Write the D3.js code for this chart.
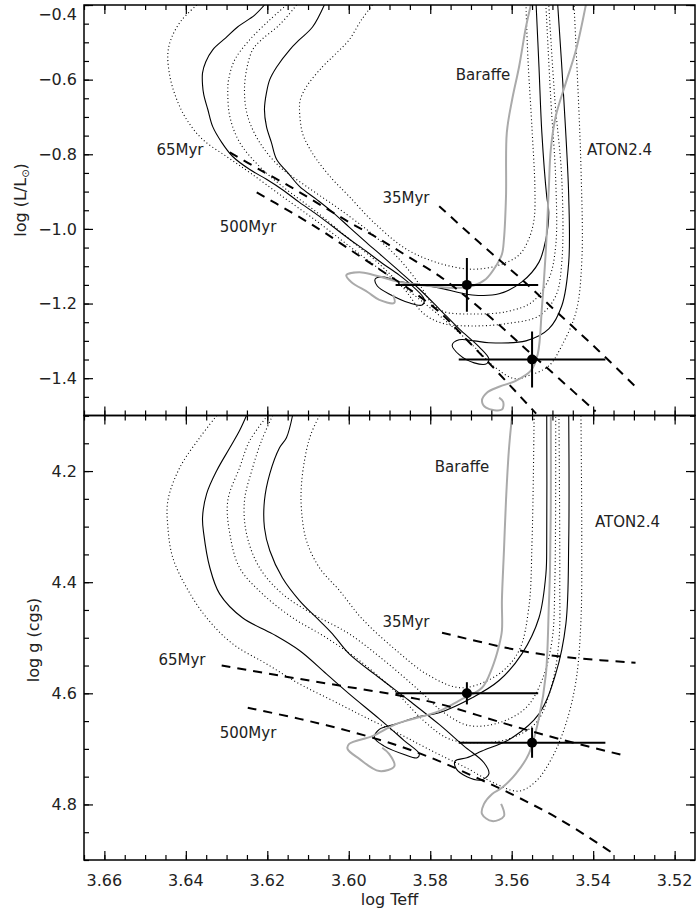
<!DOCTYPE html>
<html>
<head>
<meta charset="utf-8">
<script src="https://cdn.jsdelivr.net/npm/d3@7"></script>
<style>
  body { margin: 0; background: #fff; }
  text { font-family: "DejaVu Sans", sans-serif; fill: #222; }
</style>
</head>
<body>
<div id="chart"></div>
<script>
// ---- data: [log Teff, value] ----
// upper panel: log(L/Lsun)
var hrS1 = [[3.6207,-0.400],[3.6231,-0.427],[3.6273,-0.459],[3.6302,-0.488],[3.6334,-0.520],[3.6351,-0.552],[3.6359,-0.582],[3.6359,-0.614],[3.6356,-0.640],[3.6346,-0.680],[3.6334,-0.726],[3.6312,-0.768],[3.6285,-0.806],[3.6243,-0.841],[3.6202,-0.867],[3.6160,-0.897],[3.6121,-0.929],[3.6079,-0.961],[3.6040,-0.993],[3.5999,-1.027],[3.5957,-1.060],[3.5918,-1.092],[3.5876,-1.124],[3.5839,-1.158],[3.5815,-1.188],[3.5820,-1.204],[3.5852,-1.198],[3.5896,-1.177],[3.5930,-1.153],[3.5935,-1.134],[3.5913,-1.129],[3.5883,-1.140],[3.5820,-1.150],[3.5778,-1.158],[3.5697,-1.177],[3.5631,-1.174],[3.5575,-1.142],[3.5533,-1.089],[3.5516,-1.027],[3.5509,-0.955],[3.5514,-0.913],[3.5526,-0.742],[3.5533,-0.566],[3.5540,-0.400]];
var hrS2 = [[3.6060,-0.400],[3.6089,-0.459],[3.6121,-0.493],[3.6145,-0.520],[3.6177,-0.566],[3.6194,-0.600],[3.6202,-0.635],[3.6207,-0.680],[3.6202,-0.726],[3.6190,-0.768],[3.6177,-0.814],[3.6150,-0.849],[3.6121,-0.886],[3.6079,-0.921],[3.6040,-0.955],[3.5999,-0.995],[3.5957,-1.036],[3.5918,-1.073],[3.5876,-1.113],[3.5827,-1.161],[3.5778,-1.214],[3.5729,-1.268],[3.5680,-1.316],[3.5656,-1.348],[3.5661,-1.361],[3.5692,-1.359],[3.5729,-1.337],[3.5746,-1.311],[3.5729,-1.297],[3.5692,-1.300],[3.5656,-1.305],[3.5565,-1.300],[3.5509,-1.268],[3.5477,-1.206],[3.5460,-1.089],[3.5460,-0.913],[3.5472,-0.654],[3.5487,-0.400]];
var hrD1 = [[3.6373,-0.400],[3.6410,-0.440],[3.6434,-0.485],[3.6444,-0.528],[3.6439,-0.592],[3.6422,-0.654],[3.6398,-0.707],[3.6359,-0.760],[3.6300,-0.806],[3.6243,-0.849],[3.6163,-0.913],[3.6079,-0.979],[3.5999,-1.046],[3.5918,-1.113],[3.5834,-1.182],[3.5754,-1.254],[3.5692,-1.316],[3.5643,-1.369],[3.5594,-1.401],[3.5558,-1.393],[3.5509,-1.367],[3.5477,-1.313],[3.5442,-1.222],[3.5428,-1.089],[3.5430,-0.833],[3.5447,-0.400]];
var hrD2 = [[3.6153,-0.400],[3.6194,-0.440],[3.6243,-0.493],[3.6280,-0.547],[3.6295,-0.600],[3.6297,-0.635],[3.6292,-0.699],[3.6268,-0.768],[3.6219,-0.833],[3.6163,-0.886],[3.6079,-0.955],[3.5999,-1.027],[3.5925,-1.094],[3.5864,-1.161],[3.5815,-1.228],[3.5766,-1.254],[3.5697,-1.260],[3.5614,-1.254],[3.5533,-1.233],[3.5492,-1.180],[3.5477,-1.089],[3.5477,-0.867],[3.5494,-0.654],[3.5509,-0.400]];
var hrD3 = [[3.6128,-0.400],[3.6170,-0.453],[3.6214,-0.493],[3.6236,-0.520],[3.6251,-0.574],[3.6256,-0.635],[3.6248,-0.699],[3.6219,-0.768],[3.6170,-0.833],[3.6104,-0.886],[3.6023,-0.947],[3.5942,-1.014],[3.5876,-1.081],[3.5827,-1.148],[3.5795,-1.201],[3.5766,-1.222],[3.5697,-1.228],[3.5614,-1.222],[3.5550,-1.196],[3.5509,-1.134],[3.5492,-1.046],[3.5492,-0.867],[3.5504,-0.654],[3.5516,-0.400]];
var hrD4 = [[3.5942,-0.400],[3.5969,-0.440],[3.5999,-0.493],[3.6035,-0.534],[3.6065,-0.566],[3.6104,-0.619],[3.6119,-0.654],[3.6121,-0.680],[3.6114,-0.742],[3.6099,-0.779],[3.6079,-0.814],[3.6040,-0.867],[3.5999,-0.913],[3.5942,-0.979],[3.5859,-1.054],[3.5778,-1.092],[3.5697,-1.108],[3.5631,-1.097],[3.5582,-1.070],[3.5558,-1.027],[3.5545,-0.974],[3.5543,-0.894],[3.5550,-0.734],[3.5560,-0.547],[3.5565,-0.400]];
var hrBaraffe1 = [[3.5553,-0.400],[3.5565,-0.459],[3.5582,-0.566],[3.5599,-0.654],[3.5612,-0.742],[3.5614,-0.913],[3.5619,-1.027],[3.5624,-1.068],[3.5639,-1.100],[3.5663,-1.134],[3.5697,-1.153],[3.5741,-1.158],[3.5803,-1.153],[3.5876,-1.142],[3.5937,-1.124],[3.5974,-1.116],[3.6006,-1.124],[3.5994,-1.142],[3.5954,-1.169],[3.5925,-1.190],[3.5888,-1.198],[3.5891,-1.177]];
var hrBaraffe2 = [[3.5418,-0.400],[3.5442,-0.520],[3.5467,-0.608],[3.5492,-0.699],[3.5504,-0.787],[3.5509,-0.894],[3.5516,-1.054],[3.5526,-1.214],[3.5536,-1.335],[3.5553,-1.380],[3.5590,-1.407],[3.5631,-1.423],[3.5661,-1.439],[3.5673,-1.460],[3.5663,-1.479],[3.5624,-1.484],[3.5621,-1.463],[3.5631,-1.452]];
var hrIso35 = [[3.5778,-0.939],[3.5680,-1.036],[3.5582,-1.129],[3.5484,-1.228],[3.5386,-1.327],[3.5296,-1.423]];
var hrIso65 = [[3.6292,-0.795],[3.6219,-0.841],[3.6145,-0.886],[3.6072,-0.934],[3.5999,-0.982],[3.5925,-1.027],[3.5852,-1.076],[3.5778,-1.126],[3.5705,-1.188],[3.5631,-1.257],[3.5558,-1.329],[3.5484,-1.401],[3.5394,-1.489]];
var hrIso500 = [[3.6226,-0.902],[3.6145,-0.953],[3.6072,-1.001],[3.5999,-1.054],[3.5925,-1.108],[3.5852,-1.161],[3.5778,-1.222],[3.5705,-1.303],[3.5631,-1.388],[3.5540,-1.495]];
// [logTeff, value, err logTeff, err value]
var hrStars = [[3.571,-1.150,0.0175,0.072],[3.555,-1.350,0.018,0.075]];

// lower panel: log g
var gS1 = [[3.6251,4.100],[3.6268,4.127],[3.6292,4.158],[3.6324,4.199],[3.6349,4.241],[3.6359,4.284],[3.6356,4.313],[3.6341,4.374],[3.6317,4.421],[3.6261,4.464],[3.6187,4.493],[3.6121,4.523],[3.6055,4.565],[3.5999,4.601],[3.5925,4.646],[3.5864,4.685],[3.5827,4.709],[3.5832,4.716],[3.5864,4.710],[3.5913,4.695],[3.5937,4.680],[3.5925,4.665],[3.5883,4.655],[3.5827,4.642],[3.5778,4.635],[3.5697,4.608],[3.5631,4.577],[3.5575,4.529],[3.5533,4.464],[3.5516,4.385],[3.5514,4.325],[3.5514,4.100]];
var gS2 = [[3.6138,4.100],[3.6153,4.140],[3.6170,4.158],[3.6194,4.205],[3.6207,4.253],[3.6207,4.302],[3.6194,4.343],[3.6163,4.392],[3.6121,4.433],[3.6072,4.469],[3.6040,4.493],[3.5999,4.529],[3.5925,4.572],[3.5852,4.613],[3.5778,4.656],[3.5717,4.695],[3.5668,4.725],[3.5656,4.745],[3.5675,4.756],[3.5710,4.750],[3.5736,4.736],[3.5739,4.722],[3.5710,4.716],[3.5673,4.704],[3.5599,4.680],[3.5533,4.637],[3.5492,4.565],[3.5467,4.475],[3.5460,4.325],[3.5460,4.100]];
var gD1 = [[3.6324,4.100],[3.6366,4.140],[3.6415,4.194],[3.6444,4.253],[3.6444,4.302],[3.6432,4.356],[3.6398,4.410],[3.6349,4.464],[3.6285,4.511],[3.6202,4.547],[3.6121,4.583],[3.6040,4.613],[3.5957,4.644],[3.5876,4.673],[3.5795,4.704],[3.5712,4.734],[3.5639,4.763],[3.5582,4.776],[3.5540,4.758],[3.5501,4.716],[3.5467,4.655],[3.5442,4.577],[3.5430,4.469],[3.5428,4.325],[3.5430,4.100]];
var gD2 = [[3.6199,4.100],[3.6243,4.145],[3.6268,4.194],[3.6297,4.253],[3.6292,4.313],[3.6268,4.374],[3.6212,4.421],[3.6138,4.464],[3.6055,4.500],[3.5974,4.541],[3.5888,4.595],[3.5815,4.650],[3.5754,4.682],[3.5680,4.689],[3.5607,4.682],[3.5540,4.653],[3.5501,4.583],[3.5484,4.505],[3.5482,4.397],[3.5484,4.100]];
var gD3 = [[3.6187,4.100],[3.6214,4.145],[3.6236,4.194],[3.6256,4.253],[3.6251,4.313],[3.6219,4.374],[3.6163,4.421],[3.6089,4.457],[3.5999,4.493],[3.5913,4.541],[3.5827,4.595],[3.5766,4.635],[3.5705,4.658],[3.5631,4.653],[3.5565,4.626],[3.5526,4.577],[3.5501,4.505],[3.5494,4.397],[3.5492,4.100]];
var gD4 = [[3.6072,4.100],[3.6092,4.132],[3.6104,4.163],[3.6116,4.223],[3.6116,4.271],[3.6104,4.325],[3.6072,4.374],[3.6023,4.415],[3.5967,4.466],[3.5883,4.523],[3.5803,4.568],[3.5722,4.590],[3.5631,4.565],[3.5582,4.523],[3.5558,4.446],[3.5550,4.325],[3.5545,4.100]];
var gBaraffe1 = [[3.5599,4.100],[3.5607,4.163],[3.5614,4.253],[3.5619,4.343],[3.5624,4.433],[3.5624,4.487],[3.5631,4.514],[3.5648,4.554],[3.5673,4.590],[3.5729,4.613],[3.5778,4.632],[3.5883,4.655],[3.5942,4.677],[3.5999,4.691],[3.6003,4.700],[3.5974,4.718],[3.5925,4.740],[3.5888,4.731],[3.5901,4.709],[3.5918,4.698]];
var gBaraffe2 = [[3.5504,4.100],[3.5504,4.253],[3.5506,4.379],[3.5509,4.446],[3.5516,4.565],[3.5533,4.644],[3.5558,4.709],[3.5590,4.745],[3.5624,4.770],[3.5648,4.781],[3.5668,4.799],[3.5673,4.817],[3.5648,4.830],[3.5619,4.821],[3.5626,4.799]];
var gIso35 = [[3.5771,4.491],[3.5614,4.518],[3.5533,4.529],[3.5452,4.536],[3.5296,4.545]];
var gIso65 = [[3.6312,4.550],[3.6170,4.568],[3.6023,4.586],[3.5876,4.604],[3.5778,4.619],[3.5614,4.655],[3.5484,4.682],[3.5318,4.713]];
var gIso500 = [[3.6248,4.626],[3.6121,4.646],[3.5999,4.668],[3.5876,4.695],[3.5778,4.722],[3.5680,4.754],[3.5582,4.788],[3.5484,4.826],[3.5386,4.871],[3.5350,4.889]];
var gStars = [[3.571,4.600,0.0175,0.020],[3.555,4.689,0.018,0.027]];

// ticks
var xMajor = [3.66, 3.64, 3.62, 3.60, 3.58, 3.56, 3.54, 3.52];
var hrMajor = [-1.4, -1.2, -1.0, -0.8, -0.6, -0.4];
var gMajor = [4.2, 4.4, 4.6, 4.8];

// ---- layout ----
var svgWidth = 696, svgHeight = 912;
var plotLeft = 84, plotRight = 695, plotTop = 5, plotMid = 415.5, plotBottom = 860;

var svg = d3.select("#chart").append("svg")
    .attr("width", svgWidth)
    .attr("height", svgHeight);

var x = d3.scaleLinear().domain([3.665, 3.515]).range([plotLeft, plotRight]);
var xMinor = d3.range(3.665, 3.515, -0.005).map(d => +d.toFixed(3));

var panels = [
    { id: "hr", y: d3.scaleLinear().domain([-1.5, -0.4]).range([plotMid, plotTop]),
      y0: plotTop, y1: plotMid, major: hrMajor, minor: d3.range(-1.5, -0.399, 0.05).map(d => +d.toFixed(2)),
      solid: [hrS1, hrS2], dotted: [hrD1, hrD2, hrD3, hrD4], gray: [hrBaraffe1, hrBaraffe2],
      iso: [hrIso35, hrIso65, hrIso500], stars: hrStars,
      labels: [["65Myr", 180, 155, "middle"], ["500Myr", 248, 232, "middle"], ["35Myr", 406, 203, "middle"],
               ["Baraffe", 483, 80, "middle"], ["ATON2.4", 587, 155, "start"]],
      titleX: 20, titleY: 200 },
    { id: "g", y: d3.scaleLinear().domain([4.1, 4.9]).range([plotMid, plotBottom]),
      y0: plotMid, y1: plotBottom, major: gMajor, minor: d3.range(4.1, 4.901, 0.05).map(d => +d.toFixed(2)),
      solid: [gS1, gS2], dotted: [gD1, gD2, gD3, gD4], gray: [gBaraffe1, gBaraffe2],
      iso: [gIso35, gIso65, gIso500], stars: gStars,
      labels: [["65Myr", 182, 665, "middle"], ["500Myr", 248, 738, "middle"], ["35Myr", 406, 627, "middle"],
               ["Baraffe", 462, 472, "middle"], ["ATON2.4", 595, 527, "start"]],
      titleX: 33, titleY: 640 }
];

panels.forEach(function (p) {
    var y = p.y;
    svg.append("clipPath").attr("id", "clip-" + p.id)
        .append("rect")
        .attr("x", plotLeft).attr("y", p.y0)
        .attr("width", plotRight - plotLeft).attr("height", p.y1 - p.y0);

    var g = svg.append("g").attr("clip-path", "url(#clip-" + p.id + ")");
    var line = d3.line().x(d => x(d[0])).y(d => y(d[1])).curve(d3.curveCatmullRom.alpha(0.5));

    // ATON tracks
    g.selectAll(".dotted").data(p.dotted).enter().append("path")
        .attr("d", line).attr("fill", "none")
        .attr("stroke", "#000").attr("stroke-width", 1.1)
        .attr("stroke-dasharray", "1,2.6");
    g.selectAll(".solid").data(p.solid).enter().append("path")
        .attr("d", line).attr("fill", "none")
        .attr("stroke", "#000").attr("stroke-width", 1.1);
    // Baraffe tracks
    g.selectAll(".gray").data(p.gray).enter().append("path")
        .attr("d", line).attr("fill", "none")
        .attr("stroke", "#aaa").attr("stroke-width", 2);
    // isochrones
    g.selectAll(".iso").data(p.iso).enter().append("path")
        .attr("d", line).attr("fill", "none")
        .attr("stroke", "#000").attr("stroke-width", 2)
        .attr("stroke-dasharray", "9,7");

    // error bars + points
    var st = g.selectAll(".star").data(p.stars).enter().append("g");
    st.append("line")
        .attr("x1", d => x(d[0] - d[2])).attr("x2", d => x(d[0] + d[2]))
        .attr("y1", d => y(d[1])).attr("y2", d => y(d[1]))
        .attr("stroke", "#000").attr("stroke-width", 2);
    st.append("line")
        .attr("x1", d => x(d[0])).attr("x2", d => x(d[0]))
        .attr("y1", d => y(d[1] - d[3])).attr("y2", d => y(d[1] + d[3]))
        .attr("stroke", "#000").attr("stroke-width", 2);
    st.append("circle")
        .attr("cx", d => x(d[0])).attr("cy", d => y(d[1]))
        .attr("r", 5).attr("fill", "#000");

    // annotations
    svg.selectAll(".lab-" + p.id).data(p.labels).enter().append("text")
        .attr("x", d => d[1]).attr("y", d => d[2])
        .attr("text-anchor", d => d[3])
        .style("font-size", "15px")
        .text(d => d[0]);

    // axes: ticks point inward on all sides
    function drawAxis(axis, transform) {
        var a = svg.append("g").attr("transform", transform).call(axis);
        a.select(".domain").remove();
        a.selectAll("line").attr("stroke", "#000").attr("stroke-width", 1.2);
        a.selectAll("text").style("font-size", "16px").attr("fill", "#222");
        return a;
    }
    drawAxis(d3.axisBottom(x).tickValues(xMajor).tickSize(-9).tickFormat(""), "translate(0," + p.y1 + ")");
    drawAxis(d3.axisBottom(x).tickValues(xMinor).tickSize(-5).tickFormat(""), "translate(0," + p.y1 + ")");
    drawAxis(d3.axisTop(x).tickValues(xMajor).tickSize(-9).tickFormat(""), "translate(0," + p.y0 + ")");
    drawAxis(d3.axisTop(x).tickValues(xMinor).tickSize(-5).tickFormat(""), "translate(0," + p.y0 + ")");
    var yl = drawAxis(d3.axisLeft(y).tickValues(p.major).tickSize(-9).tickPadding(7).tickFormat(d3.format(".1f")), "translate(" + plotLeft + ",0)");
    // label sitting on the top edge is pushed down so it stays on the page
    yl.selectAll(".tick").filter(d => y(d) < 12).select("text").attr("y", 9);
    drawAxis(d3.axisLeft(y).tickValues(p.minor).tickSize(-5).tickFormat(""), "translate(" + plotLeft + ",0)");
    drawAxis(d3.axisRight(y).tickValues(p.major).tickSize(-9).tickFormat(""), "translate(" + plotRight + ",0)");
    drawAxis(d3.axisRight(y).tickValues(p.minor).tickSize(-5).tickFormat(""), "translate(" + plotRight + ",0)");

    svg.append("rect")
        .attr("x", plotLeft).attr("y", p.y0)
        .attr("width", plotRight - plotLeft).attr("height", p.y1 - p.y0)
        .attr("fill", "none").attr("stroke", "#000").attr("stroke-width", 1.5);

    // y title
    var t = svg.append("text")
        .attr("transform", "translate(" + p.titleX + "," + p.titleY + ") rotate(-90)")
        .attr("text-anchor", "middle")
        .attr("dy", "0.35em")
        .style("font-size", "16px");
    if (p.id === "hr") {
        t.append("tspan").text("log (L/L");
        t.append("tspan").attr("dy", "3").style("font-size", "10px").text("\u2299");
        t.append("tspan").attr("dy", "-3").text(")");
    } else {
        t.text("log g (cgs)");
    }
});

// shared x axis labels
svg.append("g").selectAll("text").data(xMajor).enter().append("text")
    .attr("x", d => x(d)).attr("y", 886)
    .attr("text-anchor", "middle")
    .style("font-size", "16px")
    .text(d => d3.format(".2f")(d));

svg.append("text")
    .attr("x", (plotLeft + plotRight) / 2).attr("y", 905)
    .attr("text-anchor", "middle")
    .style("font-size", "16px")
    .text("log Teff");
</script>
</body>
</html>
